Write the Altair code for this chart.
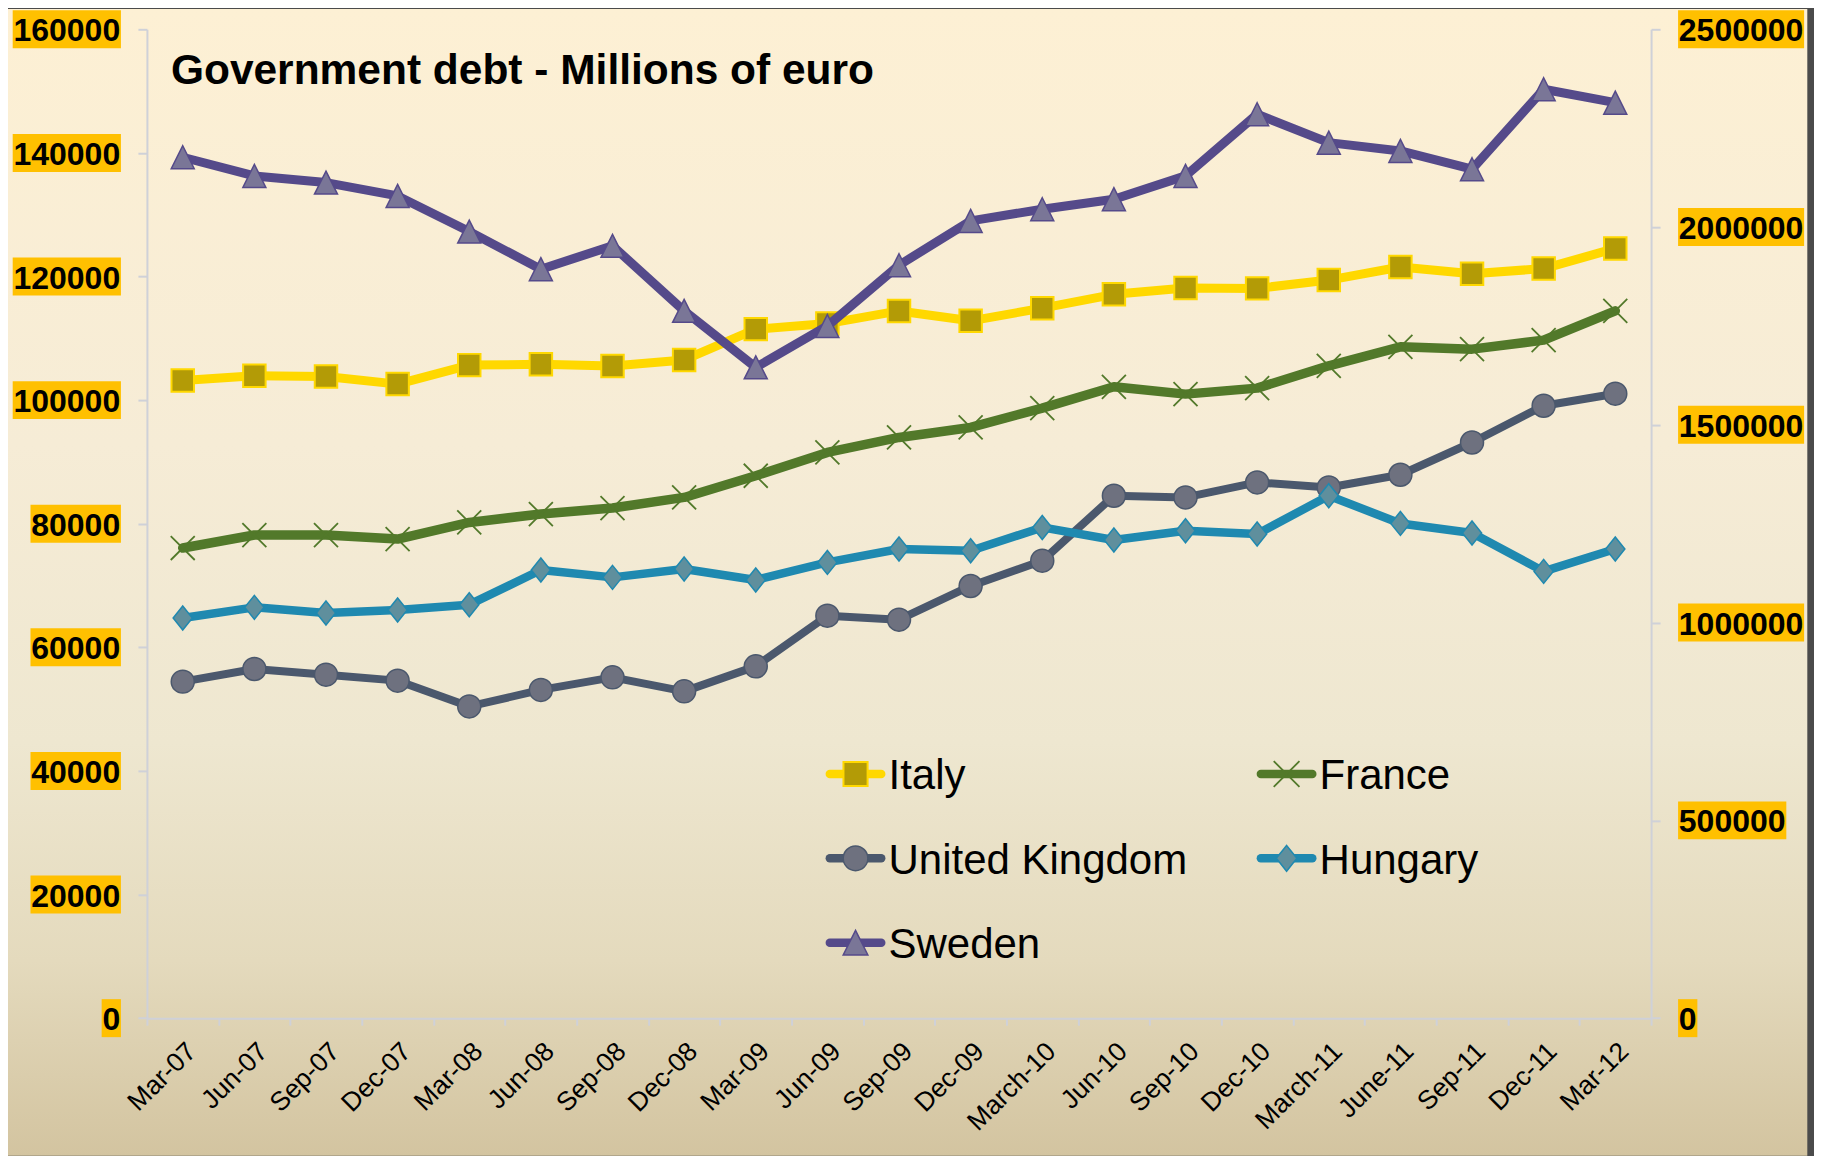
import altair as alt
import pandas as pd

# ---------------- data ----------------
months = ["Mar-07", "Jun-07", "Sep-07", "Dec-07", "Mar-08", "Jun-08", "Sep-08", "Dec-08",
          "Mar-09", "Jun-09", "Sep-09", "Dec-09", "March-10", "Jun-10", "Sep-10", "Dec-10",
          "March-11", "June-11", "Sep-11", "Dec-11", "Mar-12"]

italy = [1612000, 1624000, 1622000, 1603000, 1651000, 1653000, 1649000, 1664000,
         1742000, 1756000, 1788000, 1763000, 1795000, 1830000, 1846000, 1845000,
         1866000, 1899000, 1882000, 1895000, 1946000]
france = [1188600, 1221400, 1221400, 1211300, 1253300, 1274500, 1289700, 1316500,
          1371300, 1430200, 1468100, 1493400, 1542300, 1596200, 1577700, 1592800,
          1649200, 1697200, 1691400, 1714100, 1788200]
uk = [850800, 882800, 868400, 853300, 788000, 829800, 861600, 826200,
      889400, 1017500, 1007400, 1092600, 1156500, 1320700, 1316500, 1354400,
      1341700, 1373800, 1455400, 1548200, 1578700]
hungary = [64750, 66470, 65560, 66040, 66900, 72510, 71320, 72670,
           70900, 73740, 75910, 75630, 79400, 77360, 78870, 78330,
           84530, 80050, 78500, 72290, 75910]
sweden = [139300, 136280, 135200, 133040, 127270, 121190, 124960, 114450,
          105300, 112000, 121830, 129000, 130890, 132510, 136280, 146250,
          141660, 140320, 137360, 150300, 148130]

series = ["Italy", "France", "United Kingdom", "Hungary", "Sweden"]
series_values = {"Italy": italy, "France": france, "United Kingdom": uk,
                 "Hungary": hungary, "Sweden": sweden}
series_side = {"Italy": "right", "France": "right", "United Kingdom": "right",
               "Hungary": "left", "Sweden": "left"}

left_ticks = [0, 20000, 40000, 60000, 80000, 100000, 120000, 140000, 160000]
right_ticks = [0, 500000, 1000000, 1500000, 2000000, 2500000]

title_text = "Government debt - Millions of euro"

# ---------------- styling ----------------
FONT = "Liberation Sans, Arial, Helvetica, sans-serif"
W, H = 1505, 989.4
AX = "#CFD1D8"
LABEL_BG = "#FFC000"

style = {
    "Italy": dict(line="#FFD800", lw=9, shape="square", size=506, filled=True,
                  fill="#B39B06", stroke="#FFD800", sw=2),
    "France": dict(line="#52792A", lw=9.5, shape="M-1,-1L1,1M-1,1L1,-1", size=576,
                   filled=False, stroke="#52792A", sw=1.8),
    "United Kingdom": dict(line="#4B586D", lw=8, shape="circle", size=529, filled=True,
                           fill="#6E717F", stroke="#4B586D", sw=1.5),
    "Hungary": dict(line="#1F89B0", lw=8.5, shape="M0,-1L0.8,0L0,1L-0.8,0Z", size=576,
                    filled=True, fill="#5F8F9D", stroke="#1F89B0", sw=1.5),
    "Sweden": dict(line="#554A8A", lw=9, shape="M0,-1L1,1L-1,1Z", size=529,
                   filled=True, fill="#7A7697", stroke="#554A8A", sw=1.5),
}

n = len(months)
xscale = alt.Scale(domain=[-0.5, n - 0.5], nice=False, zero=False)
yscales = {"left": alt.Scale(domain=[left_ticks[0], left_ticks[-1]], nice=False, zero=False),
           "right": alt.Scale(domain=[right_ticks[0], right_ticks[-1]], nice=False, zero=False)}

layers = []

# background gradient (slide-like)
grad = alt.LinearGradient(
    gradient="linear", x1=0, x2=0, y1=0, y2=1,
    stops=[alt.GradientStop(color="#FDF0D4", offset=0),
           alt.GradientStop(color="#F6ECD6", offset=0.38),
           alt.GradientStop(color="#EEE7D0", offset=0.64),
           alt.GradientStop(color="#E4DABD", offset=0.83),
           alt.GradientStop(color="#D3C4A0", offset=1)])
one = pd.DataFrame({"k": [0]})
layers.append(alt.Chart(one).mark_rect(fill=grad).encode(
    x=alt.value(-139), x2=alt.value(W + 156.3), y=alt.value(-20.3), y2=alt.value(1127)))

# x axis (ticks between categories) + rotated labels at category centres
df_m = pd.DataFrame({"month": months, "idx": list(range(n))})
boundaries = [i - 0.5 for i in range(n + 1)]
layers.append(alt.Chart(df_m).mark_text(
    angle=315, align="right", baseline="top", font=FONT, fontSize=26.5, color="black"
).encode(
    x=alt.X("idx:Q", scale=xscale,
            axis=alt.Axis(orient="bottom", values=boundaries, labels=False, ticks=True,
                          tickSize=7, tickWidth=2, tickColor=AX, domainColor=AX,
                          domainWidth=2, grid=False, title=None, zindex=1)),
    y=alt.value(H + 20),
    text="month:N"))

# y axes with highlighted labels
df_l = pd.DataFrame({"v": left_ticks, "label": [str(v) for v in left_ticks]})
df_r = pd.DataFrame({"v": right_ticks, "label": [str(v) for v in right_ticks]})

layers.append(alt.Chart(df_l).transform_calculate(
    bx0="-26 - (17.8*length(datum.label) + 1.5)", bx1="-26"
).mark_rect(fill=LABEL_BG, yOffset=-19, y2Offset=19).encode(
    x=alt.X("bx0:Q", scale=None), x2=alt.X2("bx1"),
    y=alt.Y("v:Q", scale=yscales["left"], axis=None), y2=alt.Y2("v")))
layers.append(alt.Chart(df_l).mark_text(
    align="right", baseline="middle", dy=2, font=FONT, fontSize=32, fontWeight="bold",
    color="black"
).encode(
    x=alt.value(-26.75),
    y=alt.Y("v:Q", scale=yscales["left"],
            axis=alt.Axis(orient="left", values=left_ticks, labels=False, tickSize=9,
                          tickWidth=2, tickColor=AX, domainColor=AX, domainWidth=2,
                          grid=False, title=None, zindex=1)),
    text="label:N"))

layers.append(alt.Chart(df_r).transform_calculate(
    bx0=f"{W + 27}", bx1=f"{W + 27} + 17.8*length(datum.label) + 1.5"
).mark_rect(fill=LABEL_BG, yOffset=-19, y2Offset=19).encode(
    x=alt.X("bx0:Q", scale=None), x2=alt.X2("bx1"),
    y=alt.Y("v:Q", scale=yscales["right"], axis=None), y2=alt.Y2("v")))
layers.append(alt.Chart(df_r).mark_text(
    align="left", baseline="middle", dy=2, font=FONT, fontSize=32, fontWeight="bold",
    color="black"
).encode(
    x=alt.value(W + 27.75),
    y=alt.Y("v:Q", scale=yscales["right"],
            axis=alt.Axis(orient="right", values=right_ticks, labels=False, tickSize=9,
                          tickWidth=2, tickColor=AX, domainColor=AX, domainWidth=2,
                          grid=False, title=None, zindex=1)),
    text="label:N"))

# title inside the plot
layers.append(alt.Chart(one).mark_text(
    text=title_text, align="left", baseline="alphabetic", font=FONT, fontSize=42.5,
    fontWeight="bold", color="black"
).encode(x=alt.value(24), y=alt.value(54.4)))


def point_mark(s, **extra):
    st = style[s]
    kw = dict(shape=st["shape"], size=st["size"], filled=st["filled"], opacity=1,
              stroke=st["stroke"], strokeWidth=st["sw"])
    if st["filled"]:
        kw["fill"] = st["fill"]
    kw.update(extra)
    return kw


# series
for s in series:
    st = style[s]
    df = pd.DataFrame({"idx": list(range(n)), "month": months, "value": series_values[s]})
    ys = yscales[series_side[s]]
    base = alt.Chart(df).encode(
        x=alt.X("idx:Q", scale=xscale, axis=None),
        y=alt.Y("value:Q", scale=ys, axis=None))
    layers.append(base.mark_line(color=st["line"], strokeWidth=st["lw"],
                                 strokeJoin="round", strokeCap="round"))
    layers.append(base.mark_point(**point_mark(s)))

# legend (2 columns)
for i, s in enumerate(series):
    st = style[s]
    col, row = i % 2, i // 2
    cx = 709 + col * 431.3
    cy = 745.1 + row * 84.4
    layers.append(alt.Chart(one).mark_rule(
        color=st["line"], strokeWidth=8.5, strokeCap="round"
    ).encode(x=alt.value(cx - 25.7), x2=alt.value(cx + 25.7), y=alt.value(cy)))
    layers.append(alt.Chart(one).mark_point(**point_mark(s, size=st["size"] * 1.15)).encode(
        x=alt.value(cx), y=alt.value(cy)))
    layers.append(alt.Chart(one).mark_text(
        text=s, align="left", baseline="alphabetic", font=FONT, fontSize=42, color="black"
    ).encode(x=alt.value(cx + 33), y=alt.value(cy + 15.2)))

chart = alt.layer(*layers).resolve_scale(
    x="independent", y="independent"
).properties(
    width=W, height=H, background="#4B4B4B",
    padding={"left": 0, "top": 0, "right": 6, "bottom": 0}
).configure_view(strokeWidth=0)

chart.save("out.html", embed_options={"renderer": "svg", "actions": False})
